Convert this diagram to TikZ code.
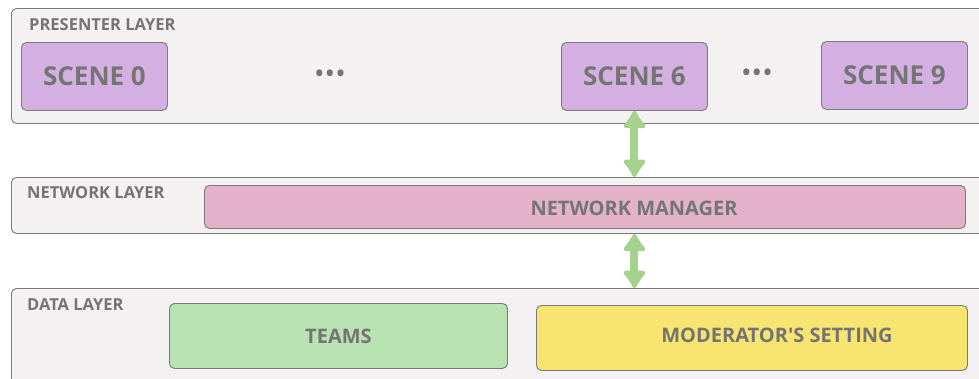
\documentclass[tikz,border=0pt]{standalone}
\usepackage{fontspec}
\setmainfont{Open Sans}
\usetikzlibrary{arrows.meta,positioning}
\definecolor{frame}{HTML}{7A7A7A}
\definecolor{ink}{HTML}{747474}
\definecolor{layerbg}{HTML}{F3F1F2}
\definecolor{scene}{HTML}{D4B0E2}
\definecolor{net}{HTML}{E3B2C8}
\definecolor{teams}{HTML}{B9E2B2}
\definecolor{setting}{HTML}{F8E470}
\definecolor{link}{HTML}{A3D38C}

\begin{document}
\begin{tikzpicture}[x=1pt,y=-1pt,
  layer/.style={draw=frame,fill=layerbg,rounded corners=5pt,line width=0.9pt,anchor=north west,inner sep=0pt},
  tag/.style={anchor=west,text=ink,inner sep=0pt,font=\bfseries\fontsize{16.5}{16.5}\selectfont},
  block/.style={draw=frame,rounded corners=5pt,line width=0.9pt,anchor=north west,inner sep=0pt,text=ink},
  caption/.style={text=ink,inner sep=0pt,font=\bfseries\fontsize{20}{20}\selectfont},
  more/.style={text=ink,inner sep=0pt,font=\fontsize{28}{28}\selectfont},
  link/.style={{Latex[round,length=20pt,width=28pt]}-{Latex[round,length=20pt,width=28pt]},line width=8pt,draw=link}]
\useasboundingbox (0,0) rectangle (979,378);
\clip (0,0) rectangle (979,378);
% three layers
\node[layer,minimum width=1000,minimum height=115] (presenter) at (11,8) {};
\node[layer,minimum width=1000,minimum height=56] (network) at (11,177) {};
\node[layer,minimum width=1000,minimum height=120] (data) at (11,288) {};
\node[tag] (presenterTag) at (29,25) {PRESENTER LAYER};
\node[tag] (networkTag) at (27,193) {NETWORK LAYER};
\node[tag] (dataTag) at (27,305) {DATA LAYER};
% presenter layer
\node[block,fill=scene,minimum width=146,minimum height=68,font=\bfseries\fontsize{26}{26}\selectfont] (scene0) at (21,42) {SCENE 0};
\node[block,fill=scene,minimum width=146,minimum height=68,font=\bfseries\fontsize{26}{26}\selectfont] (scene6) at (561,42) {SCENE 6};
\node[block,fill=scene,minimum width=146,minimum height=68,font=\bfseries\fontsize{26}{26}\selectfont] (scene9) at (821,41) {SCENE 9};
\node[more] (dotsA) at (330,77) {•••};
\node[more] (dotsB) at (757,76) {•••};
% network layer
\node[block,fill=net,minimum width=761,minimum height=43] (netmgr) at (204,185) {};
\node[caption] (netmgrText) at (634,208) {NETWORK MANAGER};
% data layer
\node[block,fill=teams,minimum width=338,minimum height=65] (teams) at (169,303) {};
\node[caption] (teamsText) at (teams.center) {TEAMS};
\node[block,fill=setting,minimum width=431,minimum height=65] (setting) at (536,305) {};
\node[caption] (settingText) at (777,335) {MODERATOR\textquotesingle S SETTING};
% links between layers
\draw[link] (scene6.south) -- (scene6.south |- network.north);
\draw[link] (network.south -| scene6.south) -- (data.north -| scene6.south);
\end{tikzpicture}
\end{document}
